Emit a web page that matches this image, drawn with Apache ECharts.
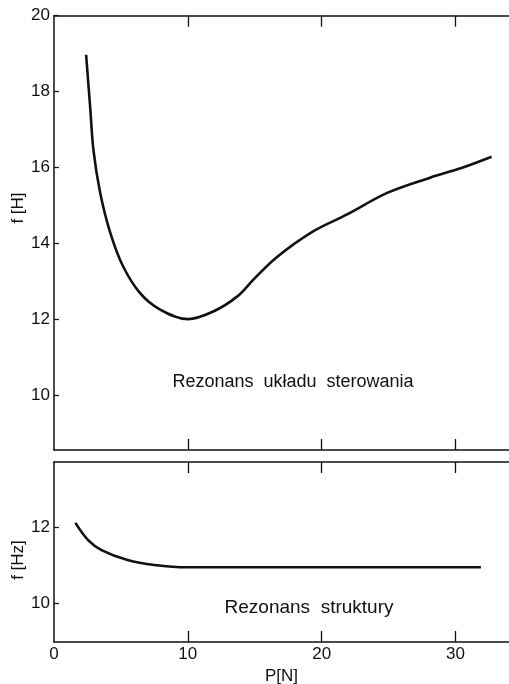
<!DOCTYPE html>
<html><head><meta charset="utf-8">
<script src="https://cdn.jsdelivr.net/npm/echarts@6/dist/echarts.min.js"></script>
<style>html,body{margin:0;padding:0;background:#fff}#c{width:509px;height:684px}</style>
</head><body><div id="c"></div>
<script>
// Top panel: Rezonans układu sterowania
const topP = [2.4, 2.7, 2.95, 3.45, 4.2, 5.15, 6.4, 7.9, 10, 11.9, 13.7, 14.9, 16.6, 19.3, 21.9, 24.9, 28.1, 30.5, 32.7];
const topF = [18.97, 17.6, 16.45, 15.33, 14.28, 13.4, 12.7, 12.26, 12.0, 12.2, 12.6, 13.04, 13.62, 14.3, 14.76, 15.33, 15.73, 15.99, 16.28];
// Bottom panel: Rezonans struktury
const botP = [1.6, 2.55, 3.55, 5.5, 7.5, 10, 15, 20, 25, 31.9];
const botF = [12.11, 11.66, 11.4, 11.14, 11.01, 10.95, 10.95, 10.95, 10.95, 10.95];
// Tick labels
const xTicks = [0, 10, 20, 30];
const xInnerTicks = [10, 20, 30];
const topYTicks = [10, 12, 14, 16, 18, 20];
const botYTicks = [10, 12];

const FONT = 'Liberation Sans';
const axisLine = {show: true, lineStyle: {color: '#111', width: 1.5}};
const txt = {color: '#111', fontFamily: FONT, fontSize: 17};

function xAx(grid, pos, showLabels) {
  return {
    type: 'value', gridIndex: grid, position: pos, min: 0, max: 34,
    axisLine: Object.assign({onZero: false}, axisLine),
    axisTick: {show: true, inside: true, length: 11, customValues: xInnerTicks, lineStyle: {color: '#111', width: 1.3}},
    axisLabel: showLabels ? Object.assign({show: true, customValues: xTicks, margin: 4}, txt) : {show: false},
    splitLine: {show: false},
    name: (showLabels ? 'P[N]' : ''), nameLocation: 'middle', nameGap: 26,
    nameTextStyle: txt
  };
}
function yAx(grid, min, max, ticks) {
  return {
    type: 'value', gridIndex: grid, min: min, max: max,
    axisLine: axisLine,
    axisTick: {show: true, inside: true, length: 5, customValues: ticks, lineStyle: {color: '#111', width: 1.2}},
    axisLabel: Object.assign({show: true, customValues: ticks, margin: 4}, txt),
    splitLine: {show: false}
  };
}

const chart = echarts.init(document.getElementById('c'), null, {renderer: 'canvas'});
chart.setOption({
  animation: false,
  backgroundColor: '#fff',
  grid: [
    {left: 54, top: 15.7, right: 0, height: 434.3, outerBoundsMode: 'none', containLabel: false},
    {left: 54, top: 462, right: 0, height: 180, outerBoundsMode: 'none', containLabel: false}
  ],
  xAxis: [xAx(0, 'bottom', false), xAx(0, 'top', false), xAx(1, 'bottom', true), xAx(1, 'top', false)],
  yAxis: [yAx(0, 8.55, 20, topYTicks), yAx(1, 9, 13.7, botYTicks)],
  series: [
    {type: 'line', xAxisIndex: 0, yAxisIndex: 0, data: topP.map((p, i) => [p, topF[i]]),
     smooth: 0.35, showSymbol: false, lineStyle: {color: '#111', width: 2.6}},
    {type: 'line', xAxisIndex: 2, yAxisIndex: 1, data: botP.map((p, i) => [p, botF[i]]),
     smooth: 0.35, showSymbol: false, lineStyle: {color: '#111', width: 2.6}}
  ],
  graphic: [
    {type: 'text', x: 293, y: 382, style: {text: 'Rezonans  układu  sterowania', align: 'center', verticalAlign: 'middle', fill: '#111', font: '18px "Liberation Sans"'}},
    {type: 'text', x: 309, y: 608, style: {text: 'Rezonans  struktury', align: 'center', verticalAlign: 'middle', fill: '#111', font: '19px "Liberation Sans"'}},
    {type: 'text', x: 18, y: 208, rotation: Math.PI / 2, style: {text: 'f [H]', align: 'center', verticalAlign: 'middle', fill: '#111', font: '17px "Liberation Sans"'}},
    {type: 'text', x: 18, y: 560, rotation: Math.PI / 2, style: {text: 'f [Hz]', align: 'center', verticalAlign: 'middle', fill: '#111', font: '17px "Liberation Sans"'}}
  ]
});
</script></body></html>
